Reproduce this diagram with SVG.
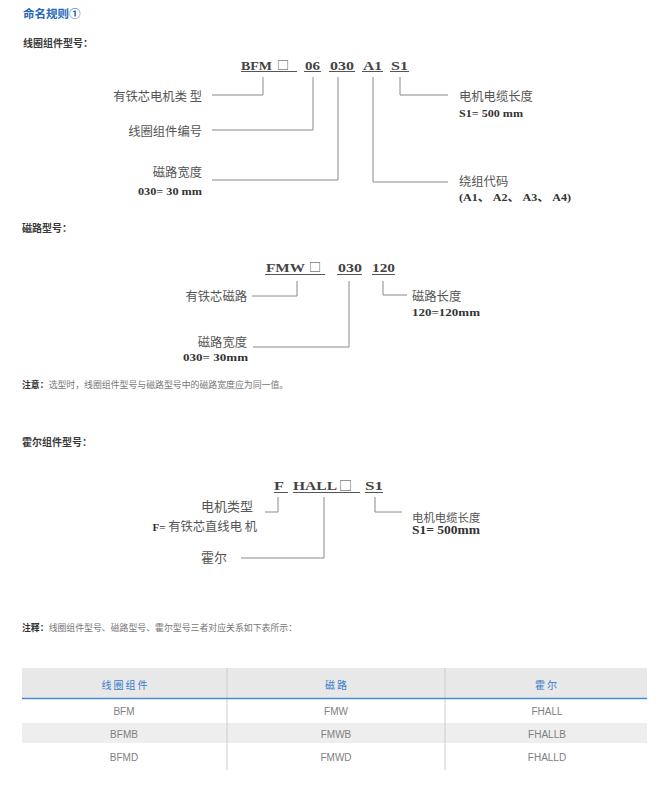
<svg xmlns="http://www.w3.org/2000/svg" width="667" height="791" viewBox="0 0 667 791">
<style>
.bg{fill:#ffffff}
.title{font-family:"Noto Sans CJK SC","Noto Sans",sans-serif;font-size:11.5px;font-weight:bold;fill:#2668b8}
.head{font-family:"Noto Sans CJK SC","Noto Sans",sans-serif;font-size:10px;font-weight:bold;fill:#3a3a3a}
.code{font-family:"Liberation Serif","Noto Sans CJK SC",serif;font-size:13px;font-weight:bold;fill:#444444}
.box{font-family:"Noto Sans CJK SC",sans-serif;font-size:12px;fill:#444444}
.lbl{font-family:"Noto Sans CJK SC","Noto Sans",sans-serif;font-size:12.3px;fill:#555555}
.val{font-family:"Liberation Serif","Noto Sans CJK SC",serif;font-size:11px;font-weight:bold;fill:#333333}
.note{font-family:"Noto Sans CJK SC","Noto Sans",sans-serif;font-size:8.9px;fill:#777777}
.noteb{font-weight:bold;fill:#333333}
.ul{stroke:#555555;stroke-width:1;fill:none}
.con{stroke:#8a8a8a;stroke-width:1;fill:none}
.th{font-family:"Noto Sans CJK SC","Noto Sans",sans-serif;font-size:10px;fill:#3a7cc8;text-anchor:middle;letter-spacing:2px}
.td{font-family:"Liberation Sans","Noto Sans",sans-serif;font-size:10px;fill:#808080;text-anchor:middle}
.div{stroke:#cccccc;stroke-width:1}
</style>
<rect class="bg" x="0" y="0" width="667" height="791"/>

<text class="title" x="23" y="18">命名规则①</text>

<!-- Section 1 -->
<text class="head" x="23" y="47">线圈组件型号：</text>
<g id="code1">
  <text class="code" x="241" y="69.5" textLength="31" lengthAdjust="spacingAndGlyphs">BFM</text>
  <text class="box" x="277" y="69.5">□</text>
  <text class="code" x="305" y="69.5" textLength="15" lengthAdjust="spacingAndGlyphs">06</text>
  <text class="code" x="330" y="69.5" textLength="24" lengthAdjust="spacingAndGlyphs">030</text>
  <text class="code" x="363" y="69.5" textLength="19" lengthAdjust="spacingAndGlyphs">A1</text>
  <text class="code" x="391" y="69.5" textLength="17" lengthAdjust="spacingAndGlyphs">S1</text>
  <path class="ul" d="M241,71.5H297M304,71.5H321M329,71.5H355M362,71.5H383M390,71.5H409"/>
</g>
<g id="labels1">
  <g id="n1-type"><text class="lbl" x="202" y="101" text-anchor="end">有铁芯电机类 型</text></g>
  <g id="n1-num"><text class="lbl" x="202" y="136" text-anchor="end">线圈组件编号</text></g>
  <g id="n1-width"><text class="lbl" x="202" y="177" text-anchor="end">磁路宽度</text>
    <text class="val" x="202" y="195" text-anchor="end" textLength="64" lengthAdjust="spacingAndGlyphs">030=  30 mm</text></g>
  <g id="n1-cable"><text class="lbl" x="459" y="101">电机电缆长度</text>
    <text class="val" x="459" y="116.5" textLength="64" lengthAdjust="spacingAndGlyphs">S1= 500 mm</text></g>
  <g id="n1-wind"><text class="lbl" x="459" y="186">绕组代码</text>
    <text class="val" x="459" y="201" textLength="112" lengthAdjust="spacingAndGlyphs">(A1、 A2、 A3、 A4)</text></g>
</g>
<g id="connectors1">
  <path class="con" d="M263,77V95H212"/>
  <path class="con" d="M313,77V130H212"/>
  <path class="con" d="M338,77V180H212"/>
  <path class="con" d="M373,77V182H448"/>
  <path class="con" d="M400,77V95H448"/>
</g>

<!-- Section 2 -->
<text class="head" x="22" y="232">磁路型号：</text>
<g id="code2">
  <text class="code" x="266" y="272" textLength="39" lengthAdjust="spacingAndGlyphs">FMW</text>
  <text class="box" x="309" y="272">□</text>
  <text class="code" x="338" y="272" textLength="24" lengthAdjust="spacingAndGlyphs">030</text>
  <text class="code" x="372" y="272" textLength="23" lengthAdjust="spacingAndGlyphs">120</text>
  <path class="ul" d="M265,274.5H325M337,274.5H362M372,274.5H395"/>
</g>
<g id="labels2">
  <g id="n2-core"><text class="lbl" x="247" y="301" text-anchor="end">有铁芯磁路</text></g>
  <g id="n2-width"><text class="lbl" x="247" y="347" text-anchor="end">磁路宽度</text>
    <text class="val" x="248" y="361" text-anchor="end" textLength="65" lengthAdjust="spacingAndGlyphs">030=  30mm</text></g>
  <g id="n2-len"><text class="lbl" x="412" y="301">磁路长度</text>
    <text class="val" x="412" y="316" textLength="68" lengthAdjust="spacingAndGlyphs">120=120mm</text></g>
</g>
<g id="connectors2">
  <path class="con" d="M297,281V296H252"/>
  <path class="con" d="M349,281V347H253"/>
  <path class="con" d="M383,281V295H407"/>
</g>
<text class="note" x="22" y="387.5"><tspan class="noteb">注意：</tspan>选型时，线圈组件型号与磁路型号中的磁路宽度应为同一值。</text>

<!-- Section 3 -->
<text class="head" x="22" y="446">霍尔组件型号：</text>
<g id="code3">
  <text class="code" x="274" y="490" textLength="10" lengthAdjust="spacingAndGlyphs">F</text>
  <text class="code" x="293" y="490" textLength="44" lengthAdjust="spacingAndGlyphs">HALL</text>
  <text class="box" x="339" y="490" style="font-size:13px">□</text>
  <text class="code" x="365" y="490" textLength="18" lengthAdjust="spacingAndGlyphs">S1</text>
  <path class="ul" d="M274,492.5H288M293,492.5H360M365,492.5H383"/>
</g>
<g id="labels3">
  <g id="n3-type"><text class="lbl" x="253" y="511" text-anchor="end" style="font-size:13px">电机类型</text>
    <text class="lbl" x="257" y="531" text-anchor="end"><tspan class="val" style="font-size:11px">F= </tspan>有铁芯直线电 机</text></g>
  <g id="n3-hall"><text class="lbl" x="227" y="562" text-anchor="end" style="font-size:13px">霍尔</text></g>
  <g id="n3-cable"><text class="lbl" x="412" y="521.5" style="font-size:11.4px">电机电缆长度</text>
    <text class="val" x="412" y="534" textLength="68" lengthAdjust="spacingAndGlyphs" style="font-size:12px">S1= 500mm</text></g>
</g>
<g id="connectors3">
  <path class="con" d="M278,497V512H265"/>
  <path class="con" d="M324,497V558H241"/>
  <path class="con" d="M375,497V512H402"/>
</g>
<text class="note" x="22" y="631"><tspan class="noteb">注释：</tspan>线圈组件型号、磁路型号、霍尔型号三者对应关系如下表所示：</text>

<!-- Table -->
<g id="table">
  <rect x="22" y="668" width="625" height="30" fill="#e8e8e8"/>
  <rect x="22" y="723" width="625" height="20" fill="#eeeeee"/>
  <line class="div" x1="227" y1="668" x2="227" y2="770"/>
  <line class="div" x1="445" y1="668" x2="445" y2="770"/>
  <line x1="22" y1="698.5" x2="647" y2="698.5" stroke="#4a8ad8" stroke-width="1.5"/>
  <text class="th" x="125.5" y="689">线圈组件</text>
  <text class="th" x="337" y="689">磁路</text>
  <text class="th" x="547" y="689">霍尔</text>
  <text class="td" x="124" y="714.5">BFM</text>
  <text class="td" x="336" y="714.5">FMW</text>
  <text class="td" x="547" y="714.5">FHALL</text>
  <text class="td" x="124" y="737.5">BFMB</text>
  <text class="td" x="336" y="737.5">FMWB</text>
  <text class="td" x="547" y="737.5">FHALLB</text>
  <text class="td" x="124" y="760.5">BFMD</text>
  <text class="td" x="336" y="760.5">FMWD</text>
  <text class="td" x="547" y="760.5">FHALLD</text>
</g>
</svg>
